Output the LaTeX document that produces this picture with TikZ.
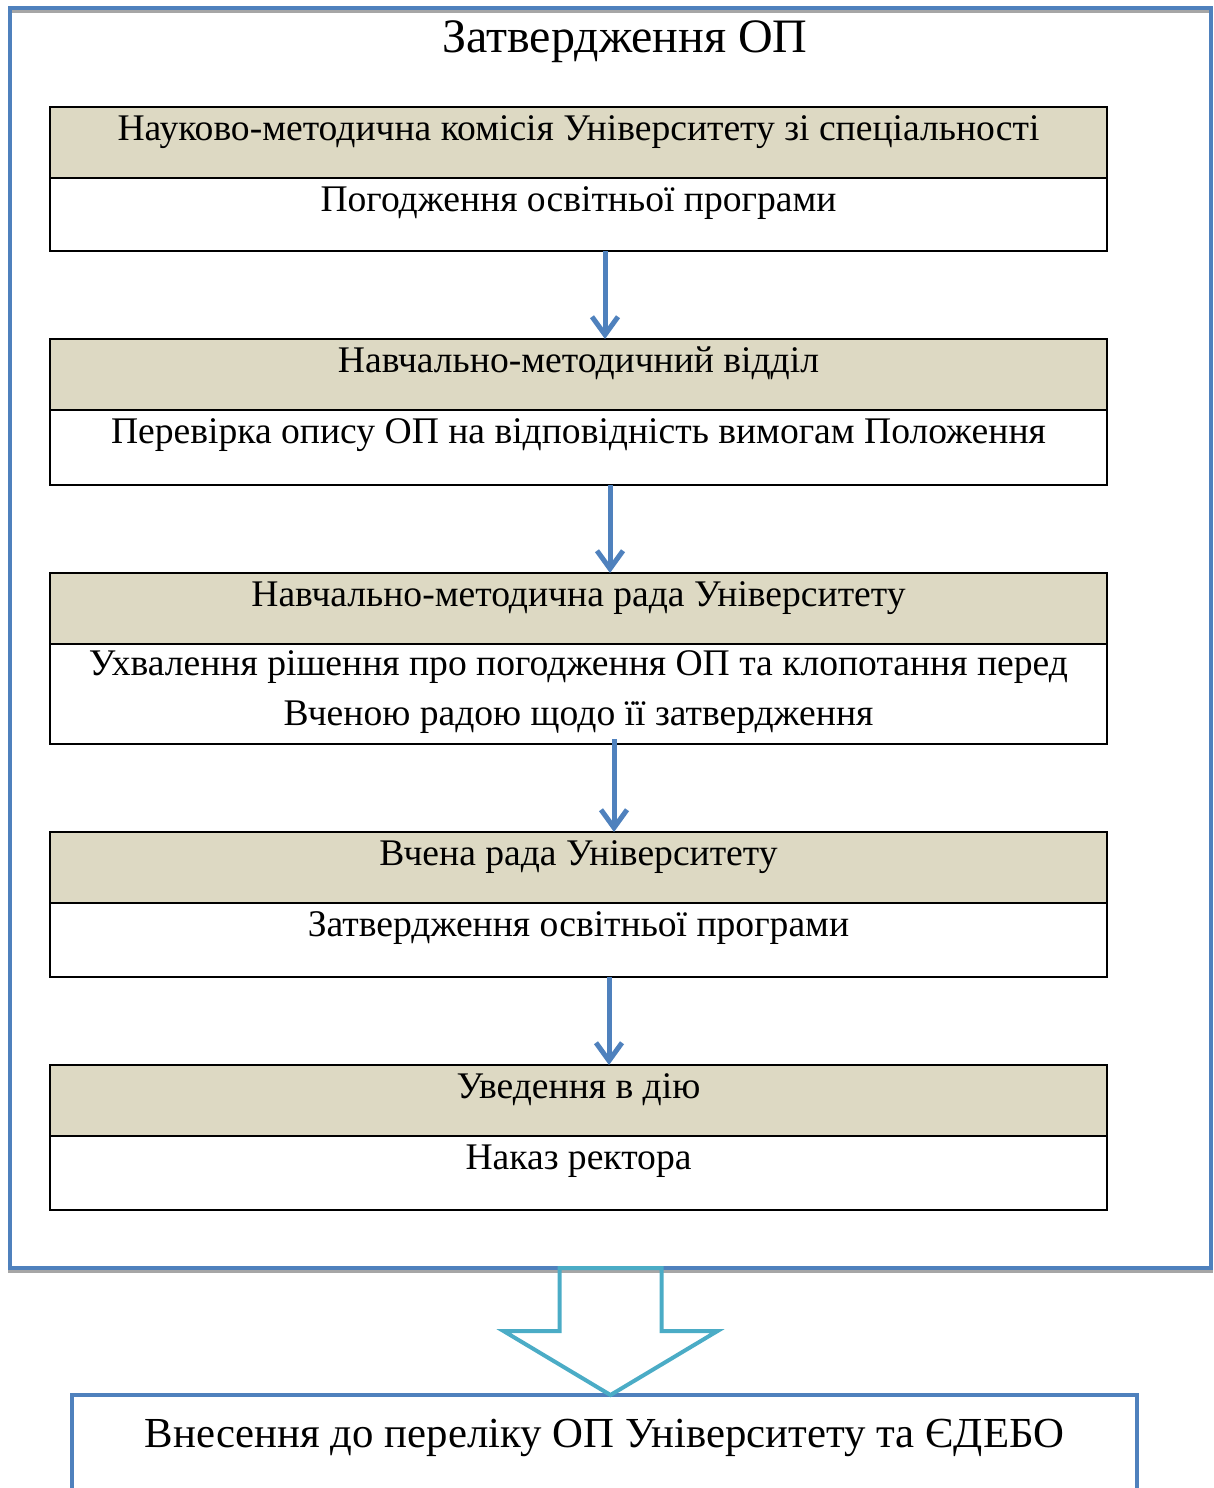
\documentclass[tikz,border=0pt]{standalone}
\usepackage{fontspec}
\setmainfont{Liberation Serif}
\usepackage{tikz}
\usetikzlibrary{arrows.meta,positioning,shadows,calc}
\definecolor{headtan}{HTML}{DDD9C3}
\definecolor{frameblue}{HTML}{4F81BD}
\definecolor{arrowteal}{HTML}{4BACC6}
\tikzstyle{head} = [draw, line width=1.2pt, fill=headtan, inner sep=0pt, outer sep=0pt, minimum width=528.5pt, align=center, text height=16.5pt, text depth=19pt, font=\fontsize{18.8}{25}\selectfont]
\tikzstyle{body} = [head, fill=white]
\tikzstyle{flow} = [line width=2.5pt, frameblue, -{Straight Barb[length=9pt,width=13pt]}]
\tikzstyle{hollow} = [line width=2pt, arrowteal, line join=miter]
\tikzstyle{frame} = [draw=frameblue, line width=2pt, outer sep=0pt, general shadow={shadow yshift=-1.5pt, draw=black!35, line width=2pt, fill=none}]

\begin{document}
\begin{tikzpicture}[x=0.5pt, y=-0.5pt]
    \useasboundingbox (0,0) rectangle (1214,1488);
    \node[frame, anchor=north west, minimum width=600.5pt, minimum height=630pt] (frame) at (10,8) {};
    \node[anchor=base, font=\fontsize{24}{29}\selectfont] (title) at (625,52) {Затвердження ОП};

    % stages
    \node[head, anchor=north] (h1) at (578.5,107) {Науково-методична комісія Університету зі спеціальності};
    \node[body, below=0pt of h1, text depth=20pt] (b1) {Погодження освітньої програми};
    \node[head, below=44pt of b1] (h2) {Навчально-методичний відділ};
    \node[body, below=0pt of h2, text depth=21pt] (b2) {Перевірка опису ОП на відповідність вимогам Положення};
    \node[head, below=44pt of b2] (h3) {Навчально-методична рада Університету};
    \node[body, below=0pt of h3, text height=40.5pt, text depth=9.5pt] (b3) {Ухвалення рішення про погодження ОП та клопотання перед\\Вченою радою щодо її затвердження};
    \node[head, below=44pt of b3] (h4) {Вчена рада Університету};
    \node[body, below=0pt of h4, text depth=20.5pt] (b4) {Затвердження освітньої програми};
    \node[head, below=44pt of b4] (h5) {Уведення в дію};
    \node[body, below=0pt of h5, text depth=20.5pt] (b5) {Наказ ректора};

    \draw[flow] (b1.south -| 605,0) -- (h2.north -| 605,0);
    \draw[flow] (b2.south -| 610,0) -- (h3.north -| 610,0);
    \draw[flow] ([yshift=2.5pt]b3.south -| 614,0) -- (h4.north -| 614,0);
    \draw[flow] (b4.south -| 609,0) -- (h5.north -| 609,0);

    \node[draw=frameblue, line width=2pt, outer sep=0pt, anchor=north, minimum width=532.5pt, minimum height=70pt, inner sep=0pt, text height=26pt, text depth=44pt, font=\fontsize{21.4}{26}\selectfont] (entry) at (604.5,1395) {Внесення до переліку ОП Університету та ЄДЕБО};

    \draw[hollow] ($(frame.south)+(-51,0)$) -- ++(0,63) -- ++(-56,0) -- (entry.north -| frame.south) -- ($(frame.south)+(107,63)$) -- ++(-56,0) -- ++(0,-63) -- cycle;
\end{tikzpicture}
\end{document}
